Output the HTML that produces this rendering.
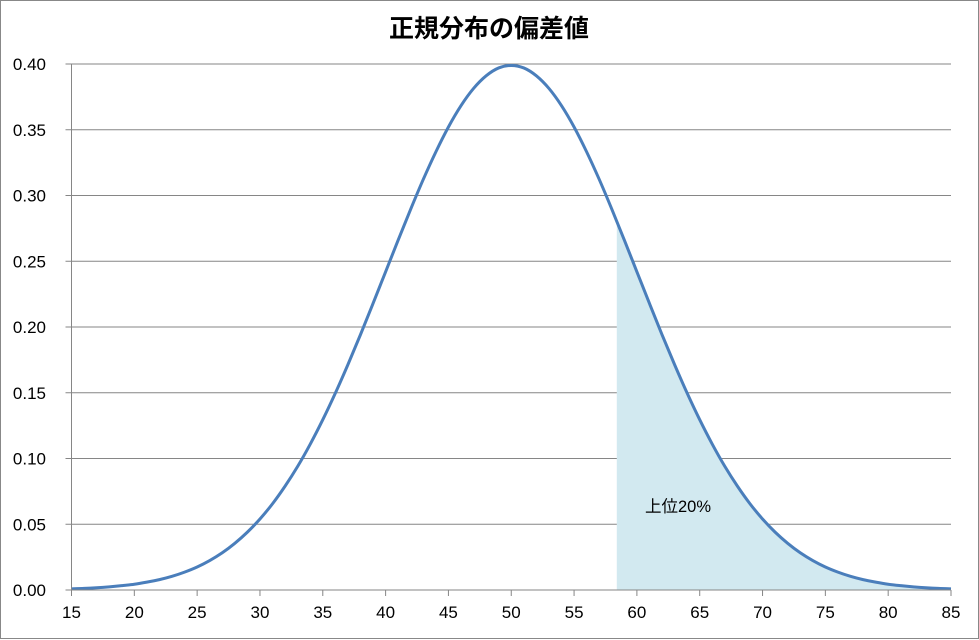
<!DOCTYPE html>
<html><head><meta charset="utf-8"><style>
body{margin:0;background:#fff}
svg{display:block;font-family:"Liberation Sans","Noto Sans CJK JP",sans-serif}
</style></head><body>
<svg id="chart" width="979" height="640">
<rect x="0.5" y="0.5" width="978" height="638" fill="#fff" stroke="#888"/>
<text x="489" y="37" text-anchor="middle" font-size="25" font-weight="bold" font-family="'Noto Sans CJK JP',sans-serif">正規分布の偏差値</text>
<g id="grid"></g><g id="area"></g><g id="series"></g><g id="axes"></g>
<text x="645" y="512" font-size="16.5" font-family="'Liberation Sans','Noto Sans CJK JP',sans-serif">上位20%</text>
</svg>
<script>
const xTicks=[15,20,25,30,35,40,45,50,55,60,65,70,75,80,85];
const yTicks=[0,0.05,0.10,0.15,0.20,0.25,0.30,0.35,0.40];
const xStart=15;
const densities=[0.0009,0.0012,0.0017,0.0024,0.0033,0.0044,0.0060,0.0079,0.0104,0.0136,0.0175,0.0224,0.0283,0.0355,0.0440,0.0540,0.0656,0.0790,0.0940,0.1109,0.1295,0.1497,0.1714,0.1942,0.2179,0.2420,0.2661,0.2897,0.3123,0.3332,0.3521,0.3683,0.3814,0.3910,0.3970,0.3989,0.3970,0.3910,0.3814,0.3683,0.3521,0.3332,0.3123,0.2897,0.2661,0.2420,0.2179,0.1942,0.1714,0.1497,0.1295,0.1109,0.0940,0.0790,0.0656,0.0540,0.0440,0.0355,0.0283,0.0224,0.0175,0.0136,0.0104,0.0079,0.0060,0.0044,0.0033,0.0024,0.0017,0.0012,0.0009];
const shadeFrom=58.4;
const X0=71.5,X1=951,Y0=590,Y1=64;
const sx=v=>X0+(v-15)/(85-15)*(X1-X0);
const sy=v=>Y0-v/0.4*(Y0-Y1);
const NS="http://www.w3.org/2000/svg";
function mk(p,t,a){const e=document.createElementNS(NS,t);for(const k in a)e.setAttribute(k,a[k]);p.appendChild(e);return e;}
const grid=document.getElementById('grid'),axes=document.getElementById('axes');
yTicks.forEach(t=>{
 if(t>0){const l=mk(grid,'line',{x1:X0,x2:X1,y1:sy(t),y2:sy(t),stroke:'#868686','stroke-width':1});
 
 }
 const tk=mk(axes,'line',{x1:X0-6,x2:X0,y1:sy(t),y2:sy(t),stroke:'#868686'});
 
 
 const tx=mk(axes,'text',{x:46,y:sy(t)+6,'text-anchor':'end','font-size':17});
 tx.textContent=t.toFixed(2);
 
 
});
xTicks.forEach(t=>{
 const tk=mk(axes,'line',{x1:sx(t),x2:sx(t),y1:Y0,y2:Y0+6,stroke:'#868686'});
 
 
 const tx=mk(axes,'text',{x:sx(t),y:Y0+28,'text-anchor':'middle','font-size':17});
 tx.textContent=t;
 
 
});
const ya=mk(axes,'line',{x1:X0,x2:X0,y1:Y1,y2:Y0,stroke:'#868686'});


const xa=mk(axes,'line',{x1:X0,x2:X1,y1:Y0,y2:Y0,stroke:'#868686'});


const pts=densities.map((d,i)=>[sx(xStart+i),sy(d)]);
function valAt(x){const i=Math.floor(x-xStart),f=x-xStart-i;return densities[i]*(1-f)+(densities[i+1]||densities[i])*f;}
let ad=`M${sx(shadeFrom)},${sy(0)} L${sx(shadeFrom)},${sy(valAt(shadeFrom))}`;
pts.forEach((p,i)=>{if(xStart+i>shadeFrom)ad+=` L${p[0]},${p[1]}`;});
ad+=` L${sx(85)},${sy(0)} Z`;
const area=mk(document.getElementById('area'),'path',{d:ad,fill:'#d2e9f0'});


let d=`M${pts[0][0]},${pts[0][1]}`;
for(let i=0;i<pts.length-1;i++){const p0=pts[i-1]||pts[i],p1=pts[i],p2=pts[i+1],p3=pts[i+2]||p2;
 d+=` C${p1[0]+(p2[0]-p0[0])/6},${p1[1]+(p2[1]-p0[1])/6} ${p2[0]-(p3[0]-p1[0])/6},${p2[1]-(p3[1]-p1[1])/6} ${p2[0]},${p2[1]}`;}
const line=mk(document.getElementById('series'),'path',{d:d,fill:'none',stroke:'#4a7ebb','stroke-width':3});


</script>
</body></html>
